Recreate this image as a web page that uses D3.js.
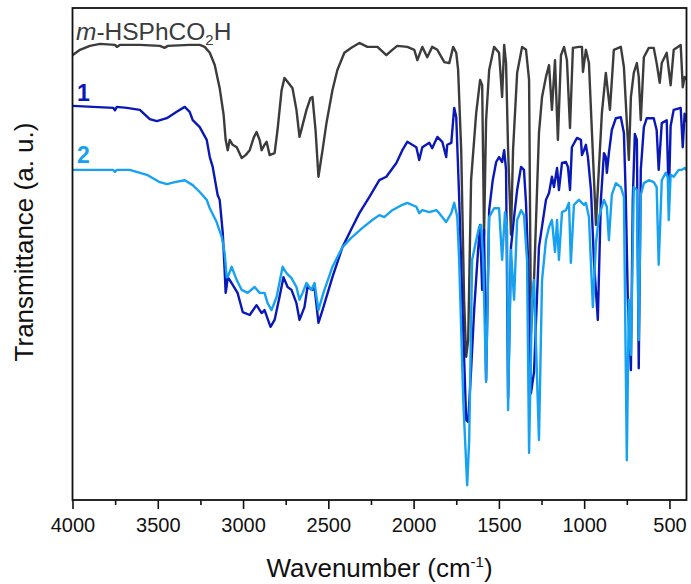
<!DOCTYPE html>
<html><head><meta charset="utf-8">
<script src="https://cdn.jsdelivr.net/npm/d3@7"></script>
<style>
body{margin:0;background:#fff}
svg{display:block}
text{font-family:Arial,"Liberation Sans",Helvetica,sans-serif}
</style>
</head><body>
<svg id="chart" width="691" height="584"></svg>
<script>
// ---- data ----
const xMajorTicks = [4000,3500,3000,2500,2000,1500,1000,500];
const xMinorTicks = [3750,3250,2750,2250,1750,1250,750];
const seriesLabels = ["m-HSPhCO2H","1","2"];

// [wavenumber (cm-1), transmittance (a.u.)]
const acidSpectrum = [
[4000,90.4],[3956,91.5],[3898,92.3],[3839,92.7],[3751,92.5],[3740,92.1],[3722,92.5],[3605,92.5],[3488,92.3],[3459,91.9],[3441,92.3],
[3313,92.5],[3254,92.5],[3225,92.1],[3195,90.9],[3166,88.4],[3137,83.7],[3114,78.3],[3102,73.2],[3090,71.1],[3078,73.2],[3061,72.2],
[3037,71.7],[3008,69.5],[2985,70.1],[2961,71.1],[2938,73.6],[2921,74.8],[2903,73.2],[2891,71.1],[2874,72.2],[2862,72.8],[2844,70.1],
[2815,70.5],[2798,75.2],[2774,83.3],[2757,85.8],[2739,85.0],[2710,83.7],[2687,79.3],[2669,73.8],[2651,76.2],[2628,79.3],[2605,81.7],
[2593,81.9],[2575,75.2],[2558,65.7],[2534,71.1],[2511,76.6],[2476,83.3],[2447,87.4],[2406,90.9],[2365,91.9],[2318,92.9],[2271,92.1],
[2212,92.1],[2160,90.4],[2125,91.5],[2096,92.3],[2037,92.1],[1996,91.5],[1978,89.4],[1949,92.1],[1920,90.0],[1891,92.1],[1861,91.5],
[1820,89.0],[1791,88.8],[1768,92.1],[1750,90.9],[1739,87.4],[1721,71.1],[1704,40.7],[1692,29.1],[1680,32.5],[1663,65.0],[1633,78.7],
[1610,85.4],[1598,84.3],[1587,53.9],[1575,77.2],[1557,87.4],[1528,92.1],[1499,90.9],[1481,81.9],[1469,92.5],[1458,88.8],[1446,71.1],
[1429,53.9],[1417,71.1],[1393,86.8],[1364,92.1],[1341,91.5],[1323,85.4],[1312,33.9],[1294,44.7],[1265,74.6],[1247,81.9],[1224,86.0],
[1206,88.4],[1189,79.3],[1171,89.4],[1154,73.2],[1136,90.4],[1118,92.1],[1101,89.4],[1083,75.6],[1066,91.9],[1031,92.1],[1013,92.1],
[1007,87.0],[990,91.5],[972,88.8],[955,75.2],[931,55.9],[914,67.1],[896,78.7],[873,86.8],[849,79.3],[826,91.5],[785,92.1],[767,88.0],
[738,69.1],[726,81.9],[709,86.8],[691,88.8],[680,86.0],[668,77.2],[650,90.0],[621,91.9],[592,91.9],[575,88.8],[557,84.8],[545,88.8],
[516,90.9],[493,84.3],[475,91.5],[434,92.5],[422,83.9],[411,86.0],[400,85.5]
];

const complex1Spectrum = [
[4000,80.1],[3760,79.7],[3751,79.2],[3740,79.9],[3681,79.7],[3605,79.3],[3547,77.4],[3506,77.0],[3447,77.6],[3389,78.9],[3342,79.9],
[3313,78.9],[3295,77.2],[3254,75.8],[3213,73.2],[3195,69.7],[3178,67.7],[3149,62.0],[3137,61.0],[3119,54.3],[3108,46.7],[3102,42.1],
[3096,43.5],[3090,45.3],[3067,44.1],[3032,42.1],[3002,38.2],[2961,37.6],[2921,39.6],[2891,38.0],[2874,38.6],[2839,35.2],[2815,36.6],
[2786,41.3],[2763,45.3],[2739,43.3],[2716,42.7],[2687,40.0],[2669,36.6],[2640,39.2],[2622,43.3],[2593,42.7],[2581,43.3],[2558,36.0],
[2534,38.6],[2476,45.3],[2417,51.4],[2359,55.5],[2318,58.3],[2259,61.6],[2201,65.0],[2160,65.7],[2101,68.5],[2066,71.1],[2037,72.8],
[1984,71.7],[1967,69.1],[1949,71.7],[1908,72.6],[1891,71.5],[1861,73.8],[1832,72.8],[1809,69.7],[1803,72.2],[1779,72.6],[1762,79.7],
[1750,77.8],[1733,61.6],[1715,40.7],[1692,16.3],[1680,15.9],[1663,26.4],[1645,38.6],[1622,50.8],[1610,55.9],[1598,42.7],[1587,54.9],
[1575,24.4],[1557,58.9],[1536,65.0],[1516,68.7],[1499,69.7],[1481,68.7],[1469,71.1],[1458,67.1],[1446,20.7],[1429,51.4],[1411,57.5],
[1393,63.0],[1370,67.7],[1353,67.1],[1341,60.4],[1329,48.8],[1312,21.7],[1294,26.0],[1265,51.4],[1224,61.0],[1206,62.4],[1189,65.7],
[1177,63.6],[1159,67.5],[1148,63.0],[1130,68.5],[1107,68.7],[1095,67.7],[1083,63.0],[1072,71.7],[1042,73.6],[1019,73.2],[1013,70.1],
[1001,71.1],[990,72.2],[978,69.7],[960,63.0],[943,48.8],[920,36.6],[902,61.0],[884,70.5],[873,69.7],[867,66.5],[855,70.5],[838,75.2],
[814,77.6],[785,77.8],[767,74.6],[756,61.6],[744,40.7],[726,26.4],[715,61.0],[703,74.4],[691,73.2],[680,26.8],[668,67.1],[650,75.8],
[633,77.6],[592,77.6],[575,75.2],[563,67.1],[545,76.6],[516,77.2],[504,61.0],[493,76.0],[475,79.3],[434,79.7],[422,71.7],[411,78.5],[400,77.0]
];

const complex2Spectrum = [
[4000,67.1],[3763,67.1],[3751,66.7],[3740,67.1],[3664,67.1],[3564,66.1],[3488,64.6],[3447,64.2],[3400,64.6],[3342,65.0],[3295,64.0],
[3254,62.6],[3213,61.0],[3195,59.3],[3155,56.5],[3125,53.5],[3108,50.2],[3096,45.3],[3090,45.3],[3067,47.4],[3037,44.7],[3008,42.7],
[2973,42.1],[2932,43.3],[2903,42.1],[2874,42.1],[2856,40.0],[2833,38.6],[2803,41.3],[2768,47.4],[2745,46.1],[2716,45.1],[2687,43.3],
[2669,40.7],[2651,42.1],[2628,44.1],[2599,42.7],[2581,44.1],[2558,38.6],[2529,42.1],[2476,47.4],[2417,51.4],[2359,53.5],[2300,55.3],
[2242,56.9],[2201,57.9],[2172,57.5],[2125,58.9],[2066,60.0],[2037,60.4],[1984,59.6],[1967,58.3],[1949,58.9],[1908,58.5],[1867,58.9],
[1850,58.3],[1809,56.5],[1779,58.3],[1762,60.4],[1744,57.5],[1733,48.8],[1709,20.3],[1686,3.0],[1674,12.2],[1657,48.8],[1633,52.8],
[1616,55.5],[1604,55.9],[1592,48.8],[1575,24.0],[1557,57.5],[1528,59.3],[1499,59.3],[1481,48.8],[1464,58.5],[1452,54.9],[1446,18.3],
[1429,50.8],[1411,40.7],[1393,56.9],[1370,58.9],[1353,57.9],[1335,48.8],[1323,9.6],[1306,40.7],[1294,44.7],[1265,12.2],[1247,44.7],
[1224,52.8],[1206,55.5],[1189,56.9],[1171,50.4],[1159,56.9],[1148,48.8],[1130,58.5],[1107,58.9],[1089,60.4],[1078,48.2],[1060,60.0],
[1031,61.0],[1001,60.0],[990,60.4],[972,57.5],[949,39.2],[931,52.2],[914,57.5],[884,61.0],[867,59.6],[855,52.8],[838,62.0],[814,64.4],
[785,63.6],[767,61.6],[750,8.1],[738,40.7],[726,29.5],[709,63.6],[691,63.0],[680,32.5],[668,62.0],[650,64.4],[621,65.0],[592,64.6],
[575,63.6],[563,47.8],[545,65.0],[522,66.5],[510,65.6],[504,56.9],[493,66.1],[475,65.7],[446,67.1],[428,67.1],[411,67.5],[400,67.1]
];

const seriesColors = ["#3c3c3c","#0a18b8","#16a2f0"];

// ---- layout ----
const svg = d3.select("#chart");
const L = 72.5, R = 686.5, T = 8, B = 500;
const x = d3.scaleLinear().domain([4000,400]).range([L,R]);
const y = d3.scaleLinear().domain([0,100]).range([B,T]);

const line = d3.line().x(d=>x(d[0])).y(d=>y(d[1]));

svg.append("defs").append("clipPath").attr("id","clip")
  .append("rect").attr("x",L).attr("y",T).attr("width",R-L).attr("height",B-T);

const g = svg.append("g").attr("clip-path","url(#clip)");
[acidSpectrum, complex1Spectrum, complex2Spectrum].forEach((s,i)=>{
  g.append("path").datum(s).attr("d",line)
   .attr("fill","none").attr("stroke",seriesColors[i])
   .attr("stroke-width",2.4).attr("stroke-linejoin","round").attr("stroke-linecap","round");
});

// frame
svg.append("rect").attr("x",L).attr("y",T).attr("width",R-L).attr("height",B-T)
  .attr("fill","none").attr("stroke","#111").attr("stroke-width",1.8);

// bottom axis
const ax = svg.append("g").attr("transform",`translate(0,${B})`)
  .call(d3.axisBottom(x).tickValues(xMajorTicks).tickSize(9).tickPadding(9).tickFormat(d3.format("d")));
ax.select(".domain").remove();
ax.selectAll(".tick line").attr("stroke","#111").attr("stroke-width",1.6);
ax.selectAll(".tick text").attr("font-size",20).attr("fill","#111")
  .attr("font-family",'Arial,"Liberation Sans",sans-serif');
const axm = svg.append("g").attr("transform",`translate(0,${B})`)
  .call(d3.axisBottom(x).tickValues(xMinorTicks).tickSize(5).tickFormat(""));
axm.select(".domain").remove();
axm.selectAll(".tick line").attr("stroke","#111").attr("stroke-width",1.6);

// axis titles
const xt = svg.append("text").attr("x",(L+R)/2).attr("y",577).attr("text-anchor","middle")
  .attr("font-size",26).attr("fill","#111");
xt.append("tspan").text("Wavenumber (cm");
xt.append("tspan").attr("font-size",15).attr("dy",-10).text("-1");
xt.append("tspan").attr("dy",10).text(")");

svg.append("text").attr("transform","translate(33,242) rotate(-90)")
  .attr("text-anchor","middle").attr("font-size",26).attr("fill","#111")
  .text("Transmittance (a. u.)");

// series labels
const lab0 = svg.append("text").attr("x",76).attr("y",40).attr("font-size",24.5).attr("fill",seriesColors[0]);
lab0.append("tspan").attr("font-style","italic").text("m");
lab0.append("tspan").text("-HSPhCO");
lab0.append("tspan").attr("font-size",15).attr("dy",5).text("2");
lab0.append("tspan").attr("dy",-5).text("H");

svg.append("text").attr("x",77).attr("y",101).attr("font-size",23).attr("font-weight","bold")
  .attr("fill",seriesColors[1]).text(seriesLabels[1]);
svg.append("text").attr("x",77).attr("y",163).attr("font-size",23).attr("font-weight","bold")
  .attr("fill",seriesColors[2]).text(seriesLabels[2]);
</script>
</body></html>
